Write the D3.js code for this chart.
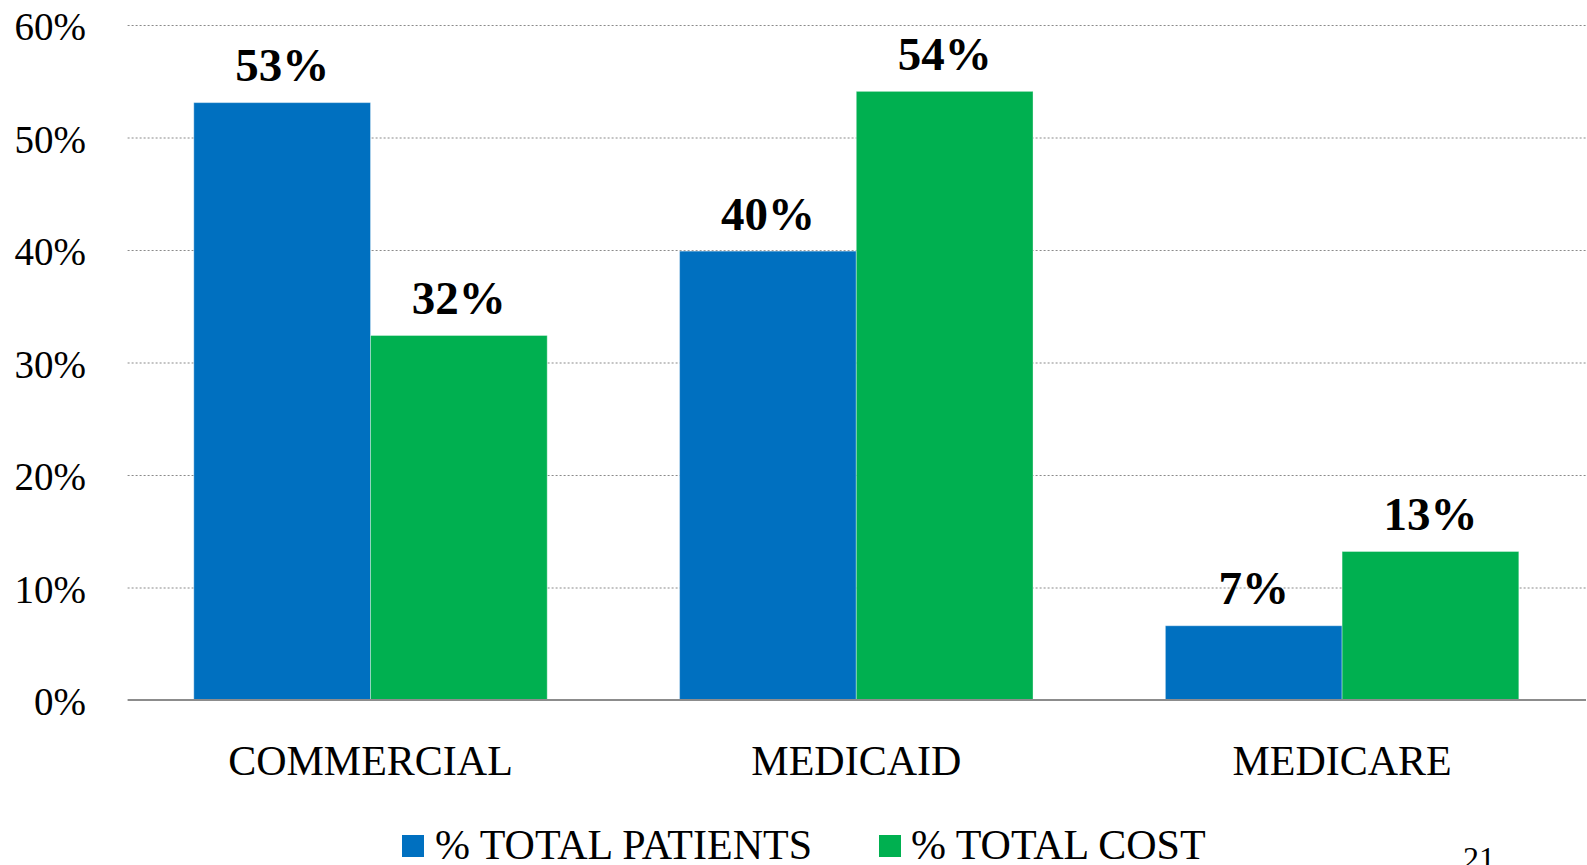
<!DOCTYPE html>
<html>
<head>
<meta charset="utf-8">
<script src="https://cdn.jsdelivr.net/npm/d3@7"></script>
<style>
  html, body { margin: 0; padding: 0; background: #ffffff; }
  svg { display: block; }
  text { font-family: "Liberation Serif", "Times New Roman", serif; fill: #000; }
</style>
</head>
<body>
<svg id="chart" width="1587" height="865"></svg>
<script>
// ---- data ----
const categories = ["COMMERCIAL", "MEDICAID", "MEDICARE"];
const seriesNames = ["% TOTAL PATIENTS", "% TOTAL COST"];
const totalPatients = [53.1, 39.9, 6.6];
const totalCost = [32.4, 54.1, 13.2];
const valueLabels = [["53%", "40%", "7%"], ["32%", "54%", "13%"]];
const yTicks = [0, 10, 20, 30, 40, 50, 60];
const yTickLabels = ["0%", "10%", "20%", "30%", "40%", "50%", "60%"];
const pageNumber = "21";

const colors = ["#0070C0", "#00B050"];
const series = [totalPatients, totalCost];

// ---- layout ----
const svg = d3.select("#chart");
const plotLeft = 127.6, plotRight = 1586, plotTop = 25, plotBottom = 700;

const x0 = d3.scaleBand().domain(categories).range([plotLeft, 1585]).paddingInner(0).paddingOuter(0);
const groupW = x0.bandwidth() * 0.7275;
const x1 = d3.scaleBand().domain(seriesNames).range([0, groupW]).padding(0);
const y = d3.scaleLinear().domain([0, 60]).range([plotBottom, plotTop]);

// gridlines
const grid = svg.append("g");
grid.selectAll("line").data(yTicks.filter(t => t > 0)).join("line")
  .attr("x1", plotLeft).attr("x2", plotRight)
  .attr("y1", d => y(d) + 0.5).attr("y2", d => y(d) + 0.5)
  .attr("stroke", "#8a8a8a").attr("stroke-width", 1.2)
  .attr("stroke-dasharray", "2,2");

// y axis labels (via d3 axis)
const yAxis = d3.axisLeft(y).tickValues(yTicks).tickFormat((d, i) => yTickLabels[i]).tickSize(0).tickPadding(0);
const yg = svg.append("g").attr("transform", "translate(86,0)").call(yAxis);
yg.select(".domain").remove();
yg.selectAll("text")
  .attr("font-family", "Liberation Serif, Times New Roman, serif")
  .attr("font-size", 39).attr("fill", "#000")
  .attr("dy", "0.38em").attr("x", 0);

// bars
series.forEach((vals, si) => {
  const g = svg.append("g");
  g.selectAll("rect").data(categories).join("rect")
    .attr("x", (c) => x0(c) + (x0.bandwidth() - groupW) / 2 + x1(seriesNames[si]))
    .attr("width", x1.bandwidth())
    .attr("y", (c, i) => y(vals[i]))
    .attr("height", (c, i) => y(0) - y(vals[i]))
    .attr("fill", colors[si])
    .attr("stroke", "rgba(255,255,255,0.35)").attr("stroke-width", 1);
  g.selectAll("text").data(categories).join("text")
    .attr("x", (c) => x0(c) + (x0.bandwidth() - groupW) / 2 + x1(seriesNames[si]) + x1.bandwidth() / 2)
    .attr("y", (c, i) => y(vals[i]) - 21.5)
    .attr("text-anchor", "middle")
    .attr("font-size", 47).attr("font-weight", "bold")
    .text((c, i) => valueLabels[si][i]);
});

// baseline
svg.append("line")
  .attr("x1", plotLeft).attr("x2", plotRight)
  .attr("y1", y(0)).attr("y2", y(0))
  .attr("stroke", "#8c8c8c").attr("stroke-width", 2.2);

// x axis labels
const xAxis = d3.axisBottom(x0).tickSize(0).tickPadding(0);
const xg = svg.append("g").attr("transform", `translate(0,${y(0)})`).call(xAxis);
xg.select(".domain").remove();
xg.selectAll("text")
  .attr("font-family", "Liberation Serif, Times New Roman, serif")
  .attr("font-size", 42).attr("fill", "#000")
  .attr("dy", null).attr("y", 75);

// legend
const legendItems = [
  { name: seriesNames[0], color: colors[0], sx: 402, tx: 435 },
  { name: seriesNames[1], color: colors[1], sx: 879, tx: 911 }
];
const lg = svg.append("g");
legendItems.forEach(it => {
  lg.append("rect").attr("x", it.sx).attr("y", 835).attr("width", 22).attr("height", 22).attr("fill", it.color);
  lg.append("text").attr("x", it.tx).attr("y", 859).attr("font-size", 42).text(it.name);
});

// page number
svg.append("text").attr("x", 1463).attr("y", 869).attr("font-size", 32).text(pageNumber);
</script>
</body>
</html>
